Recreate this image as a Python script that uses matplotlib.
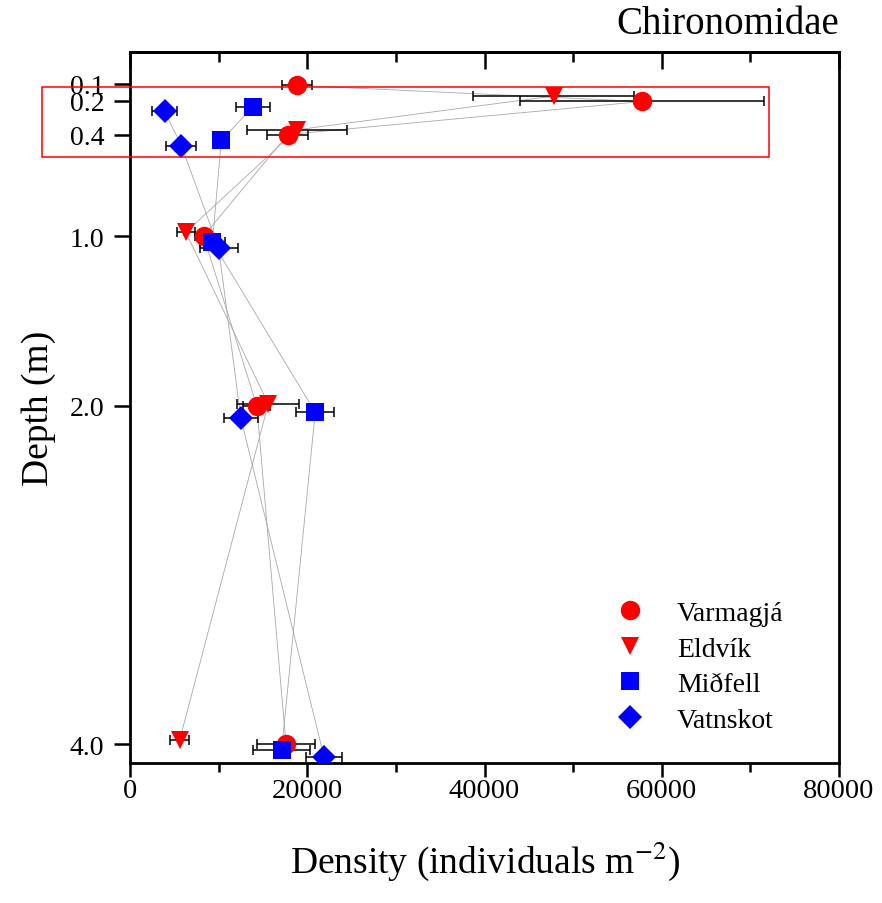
import numpy as np
import matplotlib
matplotlib.use('Agg')
import matplotlib.pyplot as plt
from matplotlib.patches import Rectangle

plt.rcParams['font.family'] = ['Liberation Serif', 'DejaVu Serif']
plt.rcParams['mathtext.fontset'] = 'stix'

# depth (m), density (individuals m-2) and error for each site
sites = ['Varmagjá', 'Eldvík', 'Miðfell', 'Vatnskot']

varm_depth = [0.11, 0.205, 0.40, 1.0, 2.0, 4.0]
varm_dens = [18800, 57800, 17800, 8300, 14300, 17600]
varm_err = [1700, 13750, 2300, 1000, 1500, 3300]

eld_depth = [0.173, 0.372, 0.977, 1.99, 3.975]
eld_dens = [47800, 18800, 6300, 15600, 5600]
eld_err = [9100, 5640, 1000, 3500, 1100]

mid_depth = [0.235, 0.435, 1.036, 2.04, 4.035]
mid_dens = [13900, 10300, 9300, 20900, 17100]
mid_err = [1900, 500, 1400, 2150, 3200]

vat_depth = [0.264, 0.465, 1.07, 2.074, 4.076]
vat_dens = [3900, 5800, 10000, 12500, 21900]
vat_err = [1450, 1700, 2150, 1900, 2000]

ytick_vals = [0.1, 0.2, 0.4, 1.0, 2.0, 4.0]
ytick_labels = ['0.1', '0.2', '0.4', '1.0', '2.0', '4.0']

series = [
    (varm_depth, varm_dens, varm_err, 'o', 'red', 14),
    (eld_depth, eld_dens, eld_err, 'v', 'red', 13),
    (mid_depth, mid_dens, mid_err, 's', 'blue', 12.5),
    (vat_depth, vat_dens, vat_err, 'D', 'blue', 12),
]

fig = plt.figure(figsize=(8.82, 9.04), dpi=100)
ax = fig.add_axes([0.1474, 0.1549, 0.8039, 0.7870])

# connecting lines first, then error bars, then markers
for depth, dens, err, mk, col, ms in series:
    ax.plot(dens, depth, color='#a8a8a8', lw=0.6, zorder=1)
for depth, dens, err, mk, col, ms in series:
    ax.errorbar(dens, depth, xerr=err, fmt='none', ecolor='black',
                elinewidth=1.1, capsize=3.5, capthick=1.1, zorder=2)
for (depth, dens, err, mk, col, ms), name in zip(series, sites):
    ax.plot(dens, depth, linestyle='none', marker=mk, color=col,
            markersize=ms, markeredgewidth=0, label=name, zorder=3)

ax.set_xlim(0, 80000)
ax.set_ylim(4.11, -0.09)
ax.set_xticks([0, 20000, 40000, 60000, 80000])
ax.set_xticks([10000, 30000, 50000, 70000], minor=True)
ax.set_yticks(ytick_vals)
ax.set_yticklabels(ytick_labels)

for s in ax.spines.values():
    s.set_linewidth(2)
ax.tick_params(axis='x', which='major', direction='out', length=10, width=1.8,
               labelsize=20.5, pad=1)
ax.tick_params(axis='x', which='minor', direction='out', length=6.5, width=1.8)
ax.tick_params(axis='y', which='major', direction='out', length=11.5, width=1.8,
               labelsize=20, pad=7)

top = ax.secondary_xaxis('top')
top.set_xticks([0, 20000, 40000, 60000, 80000])
top.set_xticks([10000, 30000, 50000, 70000], minor=True)
top.tick_params(axis='x', which='major', direction='in', length=12, width=1.8,
                labeltop=False)
top.tick_params(axis='x', which='minor', direction='in', length=7.5, width=1.8)
top.spines['top'].set_linewidth(2)

ax.set_xlabel('Density (individuals m$^{-2}$)', fontsize=27, labelpad=25)
ax.set_ylabel('Depth (m)', fontsize=27, labelpad=10)
ax.set_title('Chironomidae', loc='right', fontsize=28, pad=13)

ax.legend(loc='upper left', bbox_to_anchor=(0.6756, 0.228), frameon=False,
          fontsize=20, borderpad=0, borderaxespad=0, handlelength=1.5,
          handletextpad=0.95, labelspacing=0.36)

# red highlight box around the shallow samples
fig.patches.append(Rectangle((0.0476, 0.8252), 0.8243, 0.0775,
                             transform=fig.transFigure, fill=False,
                             edgecolor='red', lw=1.1, zorder=10))

fig.savefig('out.png', dpi=100)
